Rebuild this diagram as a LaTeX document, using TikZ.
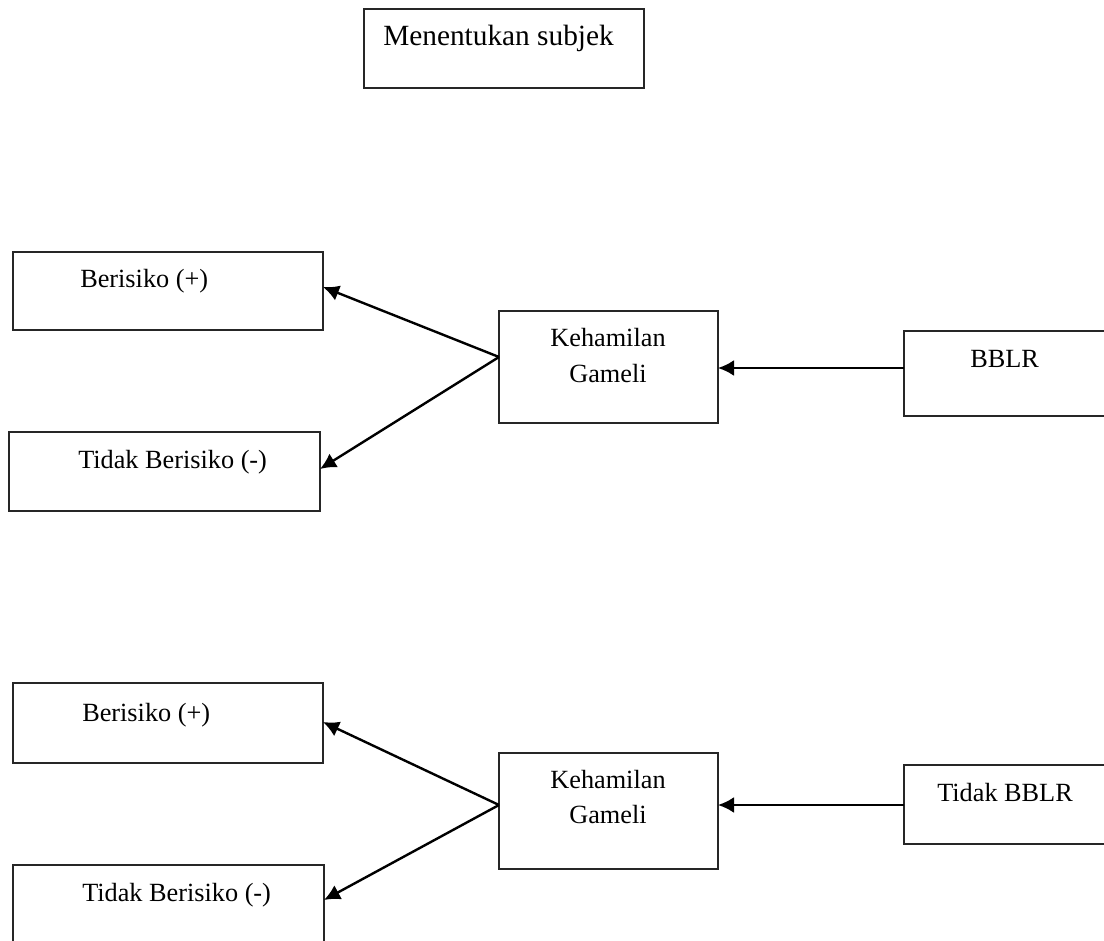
\documentclass[tikz,border=0pt]{standalone}
\usepackage{fontspec}
\setmainfont{Liberation Serif}
\usetikzlibrary{arrows.meta,calc}
\begin{document}
\begin{tikzpicture}[x=0.75pt,y=-0.75pt,
  box/.style={draw=black!85,line width=1.1pt,rectangle,inner sep=0pt,outer sep=0pt},
  lbl/.style={inner sep=0pt,anchor=base west,font=\fontsize{19.7pt}{27pt}\selectfont},
  lblc/.style={inner sep=0pt,anchor=base,font=\fontsize{19.7pt}{27pt}\selectfont},
  conn/.style={line width=1.8pt,-{Latex[length=12pt,width=12pt]}}]
\useasboundingbox (0,0) rectangle (1104,941);
% boxes
\node[box,minimum width=210pt,minimum height=59.25pt] (m) at (504,48.5) {};
\node[box,minimum width=232.5pt,minimum height=58.5pt] (b1) at (168,291) {};
\node[box,minimum width=233.25pt,minimum height=59.25pt] (t1) at (164.5,471.5) {};
\node[box,minimum width=164.25pt,minimum height=84pt] (k1) at (608.5,367) {};
\node[box,minimum width=169.5pt,minimum height=63.75pt] (r1) at (1017,373.5) {};
\node[box,minimum width=232.5pt,minimum height=60pt] (b2) at (168,723) {};
\node[box,minimum width=233.25pt,minimum height=75pt] (t2) at (168.5,915) {};
\node[box,minimum width=164.25pt,minimum height=87pt] (k2) at (608.5,811) {};
\node[box,minimum width=169.5pt,minimum height=59.25pt] (r2) at (1017,804.5) {};
% labels
\node[inner sep=0pt,anchor=base west,font=\fontsize{22pt}{27pt}\selectfont] (ml) at (383,46) {Menentukan subjek};
\node[lbl] (b1l) at (80,288) {Berisiko (+)};
\node[lbl] (t1l) at (78,469) {Tidak Berisiko (-)};
\node[lblc] (k1a) at (608,347) {Kehamilan};
\node[lblc] (k1b) at (608,383) {Gameli};
\node[lbl] (r1l) at (970,368) {BBLR};
\node[lbl] (b2l) at (82,721) {Berisiko (+)};
\node[lbl] (t2l) at (82,901) {Tidak Berisiko (-)};
\node[lblc] (k2a) at (608,788) {Kehamilan};
\node[lblc] (k2b) at (608,823) {Gameli};
\node[lbl] (r2l) at (937,801) {Tidak BBLR};
% connectors
\draw[conn] ($(r1.west)+(0,-5.5)$) -- ($(k1.east)+(0,1)$);
\draw[conn] ($(k1.west)+(0,-10)$) -- ($(b1.east)+(0,-4)$);
\draw[conn] ($(k1.west)+(0,-10)$) -- ($(t1.east)+(0,-2.5)$);
\draw[conn] ($(r2.west)+(0,0.5)$) -- ($(k2.east)+(0,-6)$);
\draw[conn] ($(k2.west)+(0,-6)$) -- ($(b2.east)+(0,-1)$);
\draw[conn] ($(k2.west)+(0,-6)$) -- ($(t2.north east)+(0,35)$);
\end{tikzpicture}
\end{document}
